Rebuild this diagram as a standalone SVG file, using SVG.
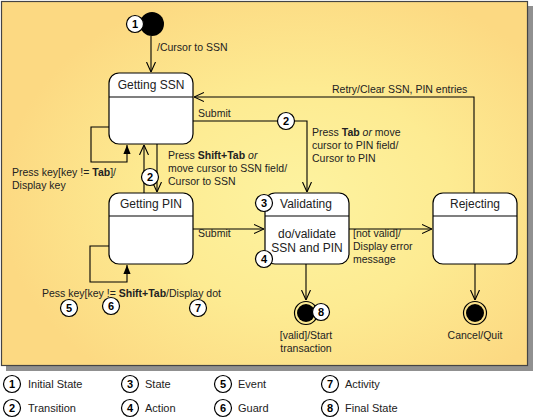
<svg xmlns="http://www.w3.org/2000/svg" width="534" height="418" viewBox="0 0 534 418">
<defs>
<radialGradient id="bg" gradientUnits="userSpaceOnUse" cx="300" cy="200" r="300" fx="300" fy="200" gradientTransform="translate(300 200) scale(1 0.75) translate(-300 -200)">
<stop offset="0" stop-color="#FDF3A0"/>
<stop offset="0.5" stop-color="#FDEB92"/>
<stop offset="1" stop-color="#FCD982"/>
</radialGradient>
<marker id="open" viewBox="0 0 10 10" refX="10" refY="5" markerWidth="10" markerHeight="10" markerUnits="userSpaceOnUse" orient="auto">
<path d="M0,0.5 L10,5 L0,9.5" fill="none" stroke="#000" stroke-width="1.1"/>
</marker>
<marker id="fill" viewBox="0 0 10 10" refX="10" refY="5" markerWidth="9" markerHeight="9" markerUnits="userSpaceOnUse" orient="auto">
<path d="M0,1 L10,5 L0,9 Z" fill="#000"/>
</marker>
</defs>
<style>
text{font-family:"Liberation Sans",Arial,sans-serif;font-size:10.5px;fill:#222}
.title{font-size:12px;text-anchor:middle}
.body{font-size:12px;text-anchor:middle}
.num{font-size:11px;font-weight:bold;text-anchor:middle;fill:#000}
.leg{font-size:11px}
.node{fill:#fff;stroke:#000;stroke-width:1.2}
.sep{stroke:#000;stroke-width:1.2}
.badge{fill:#fff;stroke:#000;stroke-width:1.2}
.conn path{fill:none;stroke:#000;stroke-width:1.1}
.mid{text-anchor:middle}
</style>
<rect x="6" y="6" width="527" height="365" fill="#909090"/>
<rect x="1.5" y="1.5" width="526" height="364" fill="url(#bg)" stroke="#444" stroke-width="1.2"/>

<g id="connectors" class="conn">
<path d="M151 36 V72" marker-end="url(#open)"/>
<path d="M109 127 H91 V162 H127 V145" marker-end="url(#fill)"/>
<path d="M144 193 V145" marker-end="url(#open)"/>
<path d="M157 144 V192" marker-end="url(#open)"/>
<path d="M193 121 H307 V192" marker-end="url(#open)"/>
<path d="M474 193 V97 H194" marker-end="url(#open)"/>
<path d="M193 229 H264" marker-end="url(#open)"/>
<path d="M109 246 H90 V282 H127 V265" marker-end="url(#fill)"/>
<path d="M349 229 H432" marker-end="url(#open)"/>
<path d="M306 264 V300" marker-end="url(#open)"/>
<path d="M475 264 V300" marker-end="url(#open)"/>
</g>

<g id="labels">
<text x="157" y="51">/Cursor to SSN</text>
<text x="12" y="176">Press key[key != <tspan font-weight="bold">Tab</tspan>]/</text>
<text x="12" y="189">Display key</text>
<text x="168" y="159">Press <tspan font-weight="bold">Shift+Tab</tspan> <tspan font-style="italic">or</tspan></text>
<text x="168" y="172">move cursor to SSN field/</text>
<text x="168" y="185">Cursor to SSN</text>
<text x="198" y="117">Submit</text>
<text x="312" y="136">Press <tspan font-weight="bold">Tab</tspan> <tspan font-style="italic">or</tspan> move</text>
<text x="312" y="149">cursor to PIN field/</text>
<text x="312" y="162">Cursor to PIN</text>
<text x="332" y="93">Retry/Clear SSN, PIN entries</text>
<text x="198" y="237">Submit</text>
<text x="353" y="237">[not valid]/</text>
<text x="353" y="250">Display error</text>
<text x="353" y="263">message</text>
<text x="42" y="297">Pess key[key != <tspan font-weight="bold">Shift+Tab</tspan>/Display dot</text>
<text class="mid" x="306" y="339">[valid]/Start</text>
<text class="mid" x="306" y="352">transaction</text>
<text class="mid" x="475" y="339">Cancel/Quit</text>
</g>

<g id="initial">
<circle cx="152" cy="24" r="12" fill="#000"/>
</g>

<g id="getting-ssn">
<rect class="node" x="109" y="73" width="84" height="71" rx="10"/>
<line class="sep" x1="109" y1="97" x2="193" y2="97"/>
<text class="title" x="151" y="89">Getting SSN</text>
</g>

<g id="getting-pin">
<rect class="node" x="109" y="193" width="84" height="71" rx="10"/>
<line class="sep" x1="109" y1="216" x2="193" y2="216"/>
<text class="title" x="151" y="208">Getting PIN</text>
</g>

<g id="validating">
<rect class="node" x="265" y="193" width="84" height="71" rx="10"/>
<line class="sep" x1="265" y1="216" x2="349" y2="216"/>
<text class="title" x="306" y="208">Validating</text>
<text class="body" x="307" y="238">do/validate</text>
<text class="body" x="307" y="252">SSN and PIN</text>
</g>

<g id="rejecting">
<rect class="node" x="433" y="193" width="84" height="71" rx="10"/>
<line class="sep" x1="433" y1="216" x2="517" y2="216"/>
<text class="title" x="475" y="208">Rejecting</text>
</g>

<g id="final-valid">
<circle cx="306" cy="313" r="11.5" fill="none" stroke="#000" stroke-width="1.2"/>
<circle cx="306" cy="313" r="9" fill="#000"/>
</g>

<g id="final-cancel">
<circle cx="475" cy="313" r="11.5" fill="none" stroke="#000" stroke-width="1.2"/>
<circle cx="475" cy="313" r="9" fill="#000"/>
</g>

<g id="badges">
<circle class="badge" cx="135" cy="24" r="8.5"/><text class="num" x="135" y="28">1</text>
<circle class="badge" cx="150" cy="177" r="8.5"/><text class="num" x="150" y="181">2</text>
<circle class="badge" cx="286" cy="121" r="8.5"/><text class="num" x="286" y="125">2</text>
<circle class="badge" cx="264" cy="203" r="8.5"/><text class="num" x="264" y="207">3</text>
<circle class="badge" cx="264" cy="259" r="8.5"/><text class="num" x="264" y="263">4</text>
<circle class="badge" cx="69" cy="308" r="8.5"/><text class="num" x="69" y="312">5</text>
<circle class="badge" cx="111" cy="306" r="8.5"/><text class="num" x="111" y="310">6</text>
<circle class="badge" cx="198" cy="308" r="8.5"/><text class="num" x="198" y="312">7</text>
<circle class="badge" cx="321" cy="312" r="8.5"/><text class="num" x="321" y="316">8</text>
</g>

<g id="legend">
<circle class="badge" cx="12" cy="384" r="8.5"/><text class="num" x="12" y="388">1</text><text class="leg" x="28" y="388">Initial State</text>
<circle class="badge" cx="12" cy="408" r="8.5"/><text class="num" x="12" y="412">2</text><text class="leg" x="28" y="412">Transition</text>
<circle class="badge" cx="130" cy="384" r="8.5"/><text class="num" x="130" y="388">3</text><text class="leg" x="145" y="388">State</text>
<circle class="badge" cx="130" cy="408" r="8.5"/><text class="num" x="130" y="412">4</text><text class="leg" x="145" y="412">Action</text>
<circle class="badge" cx="223" cy="384" r="8.5"/><text class="num" x="223" y="388">5</text><text class="leg" x="238" y="388">Event</text>
<circle class="badge" cx="223" cy="408" r="8.5"/><text class="num" x="223" y="412">6</text><text class="leg" x="238" y="412">Guard</text>
<circle class="badge" cx="330" cy="384" r="8.5"/><text class="num" x="330" y="388">7</text><text class="leg" x="345" y="388">Activity</text>
<circle class="badge" cx="330" cy="408" r="8.5"/><text class="num" x="330" y="412">8</text><text class="leg" x="345" y="412">Final State</text>
</g>
</svg>
